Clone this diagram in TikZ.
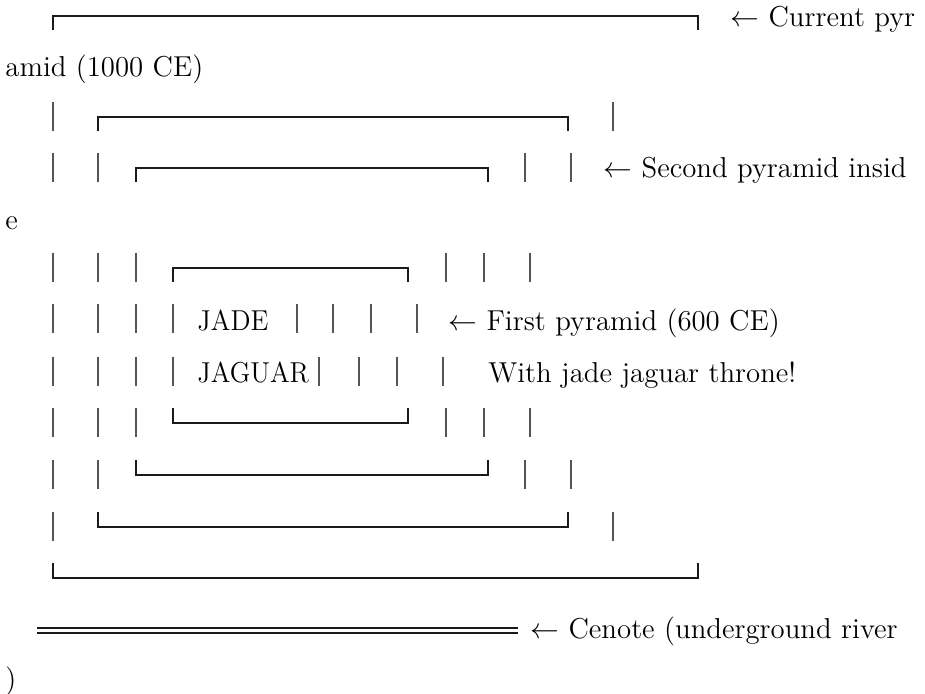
\documentclass[tikz,border=0pt]{standalone}
\usepackage{fontspec}
\usepackage{tikz}
\definecolor{pyrInk}{HTML}{1a1a1a}
\definecolor{pyrWall}{HTML}{555555}
\tikzset{
  x=0.5pt, y=-0.5pt,
  wall/.style={draw=pyrWall, line width=0.85pt},
  roof/.style={draw=pyrInk, line width=0.6pt},
  river/.style={draw=pyrInk, line width=0.75pt},
  note/.style={anchor=base west, inner sep=0pt, font=\fontsize{14.4}{17}\selectfont},
  narrow/.style={transform shape, xscale=0.93},
}
% one wall glyph, a top and a bottom of a pyramid
\newcommand{\pwall}[2]{\draw[wall] (#1,#2) -- (#1,#2+29);}
\newcommand{\ptop}[3]{\draw[roof] (#1,#3+29) |- (#2,#3+15) -- (#2,#3+29);}
\newcommand{\pbase}[3]{\draw[roof] (#1,#3) |- (#2,#3+15) -- (#2,#3);}

\begin{document}
\begin{tikzpicture}
    \useasboundingbox (0,0) rectangle (925,694);
    % outer pyramid
    \ptop{53}{698}{1}
    \node[note] (cur) at (730,27) {$\leftarrow$ Current pyr};
    \node[note] (cur2) at (5,77) {amid (1000 CE)};
    \pwall{53}{102} \ptop{98}{568}{102} \pwall{613}{102}
    \pwall{53}{153} \pwall{98}{153} \ptop{136}{488}{153}
    \pwall{525}{153} \pwall{571}{153}
    \node[note] (sec) at (603,178) {$\leftarrow$ Second pyramid insid};
    \node[note] (sec2) at (5,230) {e};
    \pwall{53}{253} \pwall{98}{253} \pwall{136}{253} \ptop{173}{408}{253}
    \pwall{446}{253} \pwall{484}{253} \pwall{530}{253}
    % first pyramid with the throne
    \pwall{53}{304} \pwall{98}{304} \pwall{136}{304} \pwall{173}{304}
    \node[note,narrow] (jade) at (197,331) {JADE};
    \pwall{297}{304} \pwall{333}{304} \pwall{371}{304} \pwall{417}{304}
    \node[note] (first) at (448,331) {$\leftarrow$ First pyramid (600 CE)};
    \pwall{53}{357} \pwall{98}{357} \pwall{136}{357} \pwall{173}{357}
    \node[note,narrow] (jag) at (197,383) {JAGUAR};
    \pwall{319}{357} \pwall{359}{357} \pwall{397}{357} \pwall{443}{357}
    \node[note] (throne) at (488,383) {With jade jaguar throne!};
    \pwall{53}{408} \pwall{98}{408} \pwall{136}{408} \pbase{173}{408}{408}
    \pwall{446}{408} \pwall{484}{408} \pwall{530}{408}
    \pwall{53}{460} \pwall{98}{460} \pbase{136}{488}{460}
    \pwall{525}{460} \pwall{571}{460}
    \pwall{53}{512} \pbase{98}{568}{512} \pwall{613}{512}
    \pbase{53}{698}{563}
    % cenote
    \draw[river] (37,628) -- (518,628);
    \draw[river] (37,633) -- (518,633);
    \node[note] (cen) at (530,638) {$\leftarrow$ Cenote (underground river};
    \node[note] (cen2) at (5,688) {)};
  \end{tikzpicture}
\end{document}
